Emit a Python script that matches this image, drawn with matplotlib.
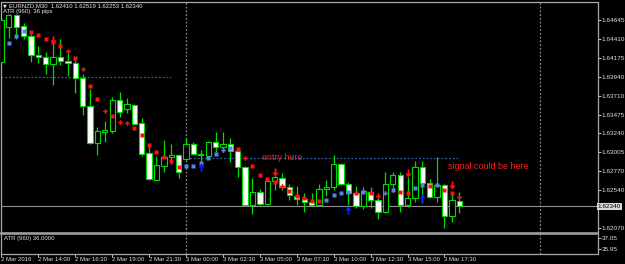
import numpy as np
import matplotlib
matplotlib.use("Agg")
import matplotlib.pyplot as plt

# ---------------- data (EURNZD M30, 2 Mar 11:30 -> 3 Mar 18:30) ----------------
opens = [1.64125, 1.64558, 1.64707, 1.64571, 1.64447, 1.64212, 1.64187, 1.64100, 1.64187, 1.64137,
         1.64113, 1.63927, 1.63581, 1.63122, 1.63259, 1.63271, 1.63655, 1.63543, 1.63593, 1.63370,
         1.62999, 1.62664, 1.62838, 1.62949, 1.62974, 1.62924, 1.63110, 1.62980, 1.62961, 1.63135,
         1.63073, 1.63110, 1.63023, 1.62825, 1.62355, 1.62516, 1.62367, 1.62652, 1.62689, 1.62578,
         1.62466, 1.62429, 1.62392, 1.62355, 1.62553, 1.62578, 1.62862, 1.62615, 1.62503, 1.62343,
         1.62516, 1.62417, 1.62268, 1.62615, 1.62726, 1.62355, 1.62442, 1.62825, 1.62627, 1.62454,
         1.62602, 1.62219, 1.62410]
highs = [1.64670, 1.64719, 1.64719, 1.64608, 1.64472, 1.64323, 1.64249, 1.64360, 1.64410, 1.64249,
         1.64150, 1.63977, 1.63791, 1.63320, 1.63395, 1.63692, 1.63754, 1.63679, 1.63605, 1.63432,
         1.63098, 1.62961, 1.63160, 1.63110, 1.62986, 1.63184, 1.63135, 1.63036, 1.63147, 1.63259,
         1.63259, 1.63184, 1.63036, 1.62838, 1.62689, 1.62553, 1.62677, 1.62751, 1.62751, 1.62615,
         1.62590, 1.62503, 1.62503, 1.62615, 1.62664, 1.62974, 1.62875, 1.62640, 1.62590, 1.62578,
         1.62578, 1.62503, 1.62763, 1.62763, 1.62763, 1.62701, 1.62900, 1.62900, 1.62677, 1.62949,
         1.62615, 1.62516, 1.62519]
lows = [1.64113, 1.64422, 1.64410, 1.64410, 1.64125, 1.64113, 1.63977, 1.63840, 1.64088, 1.63952,
        1.63741, 1.63469, 1.63110, 1.62974, 1.63135, 1.63246, 1.63444, 1.63494, 1.63345, 1.62961,
        1.62664, 1.62664, 1.62763, 1.62862, 1.62689, 1.62912, 1.62974, 1.62887, 1.62949, 1.63011,
        1.63011, 1.62887, 1.62701, 1.62343, 1.62243, 1.62355, 1.62355, 1.62541, 1.62541, 1.62417,
        1.62355, 1.62268, 1.62343, 1.62343, 1.62466, 1.62541, 1.62602, 1.62355, 1.62318, 1.62305,
        1.62318, 1.62182, 1.62256, 1.62516, 1.62268, 1.62330, 1.62392, 1.62380, 1.62442, 1.62392,
        1.62070, 1.62144, 1.62253]
closes = [1.64645, 1.64707, 1.64558, 1.64447, 1.64212, 1.64187, 1.64100, 1.64187, 1.64137, 1.64113,
          1.63927, 1.63581, 1.63122, 1.63271, 1.63283, 1.63655, 1.63506, 1.63605, 1.63358, 1.62986,
          1.62677, 1.62850, 1.62949, 1.62974, 1.62763, 1.63110, 1.62986, 1.62986, 1.63135, 1.63073,
          1.63110, 1.63023, 1.62825, 1.62355, 1.62516, 1.62367, 1.62652, 1.62701, 1.62578, 1.62479,
          1.62429, 1.62392, 1.62355, 1.62553, 1.62578, 1.62862, 1.62615, 1.62503, 1.62343, 1.62528,
          1.62417, 1.62268, 1.62615, 1.62726, 1.62355, 1.62442, 1.62825, 1.62627, 1.62454, 1.62602,
          1.62219, 1.62417, 1.62340]

# indicator dots (one per bar from bar 1 on)
dot_vals = [1.64360, 1.64447, 1.64509, 1.64496, 1.64459, 1.64410, 1.64373, 1.64323, 1.64261, 1.64175,
            1.64038, 1.63828, 1.63667, 1.63519, 1.63457, 1.63382, 1.63370, 1.63308, 1.63221, 1.63098,
            1.63011, 1.62949, 1.62900, 1.62825, 1.62838, 1.62838, 1.62875, 1.62937, 1.62986, 1.63036,
            1.63060, 1.63048, 1.62937, 1.62838, 1.62726, 1.62677, 1.62640, 1.62590, 1.62528, 1.62466,
            1.62442, 1.62404, 1.62404, 1.62417, 1.62479, 1.62503, 1.62516, 1.62503, 1.62516, 1.62503,
            1.62466, 1.62503, 1.62541, 1.62516, 1.62503, 1.62565, 1.62602, 1.62590, 1.62602, 1.62541,
            1.62503, 1.62454]
blue_dot_bars = [1, 2, 3, 25, 26, 27, 28, 29, 30, 31, 44, 45, 46, 47, 49, 52, 53, 56, 57, 59]
cross_dot_bars = [9, 11, 14, 16, 17, 30, 33, 38, 51, 52, 62]

down_arrow_bars = [7, 37, 55, 61]
down_arrow_vals = [1.64397, 1.62763, 1.62751, 1.62602]
up_arrow_bars = [27, 47, 57]
up_arrow_vals = [1.62825, 1.62293, 1.62442]

hline1_val, hline1_bars = 1.63939, (0, 23)
hline2_val, hline2_bars = 1.62937, (25, 62)
bid = 1.62340
separators = [25, 73]

price_ticks = [1.64645, 1.64410, 1.64175, 1.63940, 1.63710, 1.63475, 1.63240, 1.63005,
               1.62770, 1.62540, 1.62070]
time_tick_bars = [5, 10, 15, 20, 25, 30, 35, 40, 45, 50, 55, 60]
time_labels = ["2 Mar 14:00", "2 Mar 16:30", "2 Mar 19:00", "2 Mar 21:30", "3 Mar 00:00",
               "3 Mar 02:30", "3 Mar 05:00", "3 Mar 07:30", "3 Mar 10:00", "3 Mar 12:30",
               "3 Mar 15:00", "3 Mar 17:30"]

# ---------------- drawing ----------------
FONT = ["Liberation Sans", "DejaVu Sans"]
plt.rcParams["font.family"] = FONT
W, H = 625, 264
fig = plt.figure(figsize=(W / 100, H / 100), dpi=100, facecolor="black")

def fx(px):
    return px / W

def fy(py):
    return 1 - py / H

GREEN = "#00dc00"
FRAME = "#a8a8a8"
XL = (0.0135, 80.72)

ax = fig.add_axes([fx(1.5), fy(233), fx(596), 231.5 / H], facecolor="black")
ax.set_xlim(*XL)
ax.set_ylim(1.620083, 1.648740)

x = np.arange(len(opens))
o = np.array(opens); c = np.array(closes); h = np.array(highs); l = np.array(lows)
ax.vlines(x, l, h, color=GREEN, lw=0.9, zorder=2)
bull = c >= o
bottoms = np.minimum(o, c)
heights = np.maximum(np.abs(c - o), 0.00001)
ax.bar(x[bull], heights[bull], bottom=bottoms[bull], width=0.72, facecolor="black",
       edgecolor=GREEN, linewidth=0.8, zorder=3)
ax.bar(x[~bull], heights[~bull], bottom=bottoms[~bull], width=0.72, facecolor="white",
       edgecolor=GREEN, linewidth=0.8, zorder=3)

# lines
ax.hlines(hline1_val, hline1_bars[0], hline1_bars[1], colors="#2f5fa8", lw=0.9,
          linestyles=(0, (1.5, 1.5)), zorder=1)
ax.hlines(hline2_val, hline2_bars[0], hline2_bars[1], colors="#2f5fa8", lw=0.9,
          linestyles=(0, (1.5, 1.5)), zorder=1)
ax.axhline(bid, color="#909090", lw=0.8, zorder=1)
for s in separators:
    ax.axvline(s, color="#8a8a8a", lw=0.9, ls=(0, (1.5, 1.5)), zorder=1)

# indicator markers
dot_bars = np.arange(1, len(dot_vals) + 1)
for b, v in zip(dot_bars, dot_vals):
    col = "#4f86f0" if b in blue_dot_bars else "#ff1010"
    if b in cross_dot_bars:
        ax.plot(b, v, marker="P", ms=3.4, color=col, mec="none", zorder=5)
    else:
        ax.plot(b, v, marker="s", ms=2.2, color=col, mec="none", zorder=5)

down_arrow = [(-0.22, 1), (0.22, 1), (0.22, 0), (0.75, 0), (0, -1), (-0.75, 0), (-0.22, 0)]
up_arrow = [(vx, -vy) for vx, vy in down_arrow]
ax.plot(down_arrow_bars, down_arrow_vals, ls="none", marker=down_arrow, ms=6.0,
        color="#ff1010", mec="none", zorder=6)
ax.plot(up_arrow_bars, up_arrow_vals, ls="none", marker=up_arrow, ms=6.0,
        color="#1a1aff", mec="none", zorder=6)

# annotations
ax.text(35.3, 1.62937, "entry here", color="#ff2020", fontsize=6.4, va="center", ha="left",
        zorder=7)
ax.text(60.5, 1.62830, "signal could be here", color="#ff2020", fontsize=6.4, va="center",
        ha="left", zorder=7)

# axis styling main
ax.yaxis.tick_right()
ax.set_yticks(price_ticks)
ax.set_yticklabels([f"{p:.5f}" for p in price_ticks])
ax.tick_params(axis="y", colors="#e0e0e0", labelsize=4.6, length=2, width=0.6, pad=1)
ax.set_xticks([])
for sp in ax.spines.values():
    sp.set_color(FRAME)
    sp.set_linewidth(0.9)
ax.spines["bottom"].set_linewidth(1.1)
ax.text(1.0, bid, f"{bid:.5f}", transform=ax.get_yaxis_transform(), color="black",
        fontsize=4.6, va="center", ha="left",
        bbox=dict(boxstyle="square,pad=0.15", fc="#d8d8d8", ec="none"), clip_on=False,
        zorder=8)

# sub window (ATR)
ax2 = fig.add_axes([fx(1.5), fy(253.5), fx(596), 19.5 / H], facecolor="black")
ax2.set_xlim(*XL)
ax2.set_ylim(35.50, 37.45)
ax2.yaxis.tick_right()
ax2.set_yticks([37.05, 35.95])
ax2.set_yticklabels(["37.05", "35.95"])
ax2.tick_params(axis="y", colors="#e0e0e0", labelsize=4.6, length=2, width=0.6, pad=1)
for s in separators:
    ax2.axvline(s, color="#8a8a8a", lw=0.9, ls=(0, (1.5, 1.5)))
ax2.set_xticks([XL[0]] + time_tick_bars)
ax2.set_xticklabels(["2 Mar 2016"] + time_labels)
for lab in ax2.get_xticklabels():
    lab.set_horizontalalignment("left")
ax2.tick_params(axis="x", colors="#e0e0e0", labelsize=4.3, length=2, width=0.6, pad=0.5)
for sp in ax2.spines.values():
    sp.set_color(FRAME)
    sp.set_linewidth(0.9)
ax2.spines["top"].set_linewidth(1.1)
ax2.text(0.004, 0.76, "ATR (960) 36.0000", transform=ax2.transAxes, color="#e0e0e0",
         fontsize=4.3, va="center", ha="left")

# header texts
fig.text(fx(3), fy(5.5), "\u25bc", color="#e0e0e0", fontsize=3.5, va="center", ha="left",
         family=["DejaVu Sans"])
fig.text(fx(9), fy(5.5), "EURNZD,M30  1.62410 1.62519 1.62253 1.62340", color="#e8e8e8",
         fontsize=4.3, va="center", ha="left")
fig.text(fx(3), fy(11.8), "ATR (960): 36 pips", color="#e8e8e8", fontsize=4.3,
         va="center", ha="left")

fig.savefig("out.png", dpi=100, facecolor="black")
